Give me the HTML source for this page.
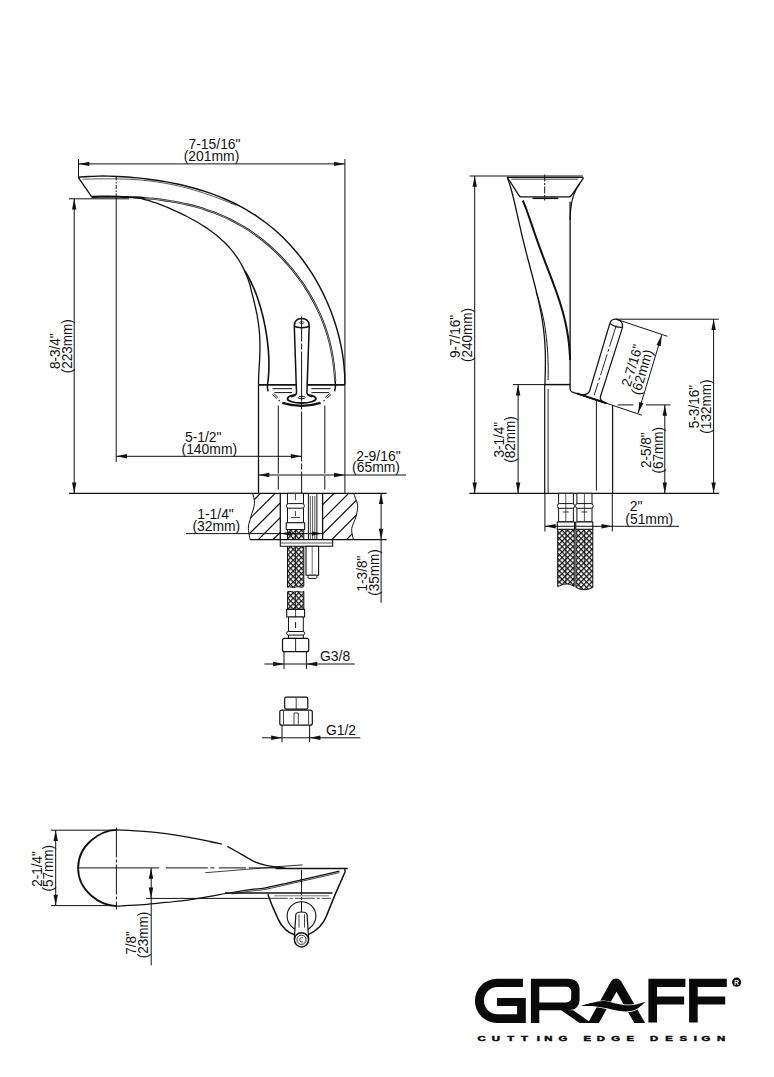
<!DOCTYPE html>
<html><head><meta charset="utf-8"><title>GRAFF faucet dimensions</title>
<style>
html,body{margin:0;padding:0;background:#fff;}
body{width:774px;height:1077px;overflow:hidden;font-family:"Liberation Sans",sans-serif;}
svg{display:block;}
svg text{font-family:"Liberation Sans",sans-serif;fill:#111;stroke:none;}
</style></head><body>
<svg width="774" height="1077" viewBox="0 0 774 1077" fill="none" stroke="#111" stroke-linecap="butt" stroke-linejoin="round">
<defs>
<pattern id="mesh" width="3.84" height="3.84" patternUnits="userSpaceOnUse" patternTransform="rotate(45)">
<rect width="3.84" height="3.84" fill="#fff" stroke="none"/>
<path d="M0 0H3.84M0 0V3.84" stroke="#111" stroke-width="2.5"/>
</pattern>
<pattern id="hatch" width="7" height="7" patternUnits="userSpaceOnUse" patternTransform="rotate(-45)">
<path d="M0 3.5H7" stroke="#111" stroke-width="1"/>
</pattern>
</defs>
<g id="side">
<line x1="78.5" y1="159" x2="78.5" y2="178.4" stroke-width="1.0"/>
<line x1="344.9" y1="159" x2="344.9" y2="493.3" stroke-width="1.0"/>
<line x1="78.5" y1="163.9" x2="344.9" y2="163.9" stroke-width="1.0"/>
<polygon points="78.50,163.90 89.30,161.70 89.30,166.10" fill="#111" stroke="none"/>
<polygon points="344.90,163.90 334.10,166.10 334.10,161.70" fill="#111" stroke="none"/>
<text transform="translate(214.5,149) scale(1.0,1)" font-size="13.9" text-anchor="middle">7-15/16&quot;</text>
<text transform="translate(211.5,161.4) scale(1.0,1)" font-size="13.9" text-anchor="middle">(201mm)</text>
<path d="M78.50 177.60L91.70 196.90" stroke-width="1.3" fill="none"/>
<path d="M78.50 177.20C80.16 177.08 85.18 176.64 88.48 176.47C91.78 176.29 95.05 176.19 98.32 176.13C101.58 176.08 104.83 176.09 108.08 176.14C111.32 176.19 114.56 176.30 117.80 176.45C121.04 176.59 124.28 176.79 127.52 177.02C130.76 177.26 133.99 177.54 137.24 177.86C140.48 178.18 143.72 178.54 146.96 178.95C150.20 179.36 153.45 179.80 156.69 180.30C159.93 180.79 163.17 181.33 166.40 181.91C169.64 182.50 172.87 183.13 176.09 183.81C179.31 184.50 182.52 185.23 185.72 186.01C188.91 186.80 192.10 187.64 195.27 188.54C198.43 189.44 201.58 190.39 204.71 191.41C207.83 192.42 210.94 193.50 214.01 194.64C217.09 195.78 220.14 196.98 223.16 198.25C226.17 199.52 229.16 200.86 232.11 202.26C235.05 203.67 237.97 205.14 240.84 206.68C243.71 208.23 246.54 209.84 249.33 211.52C252.11 213.21 254.86 214.96 257.55 216.78C260.24 218.61 262.89 220.50 265.48 222.46C268.08 224.43 270.62 226.46 273.11 228.56C275.60 230.66 278.04 232.83 280.41 235.06C282.79 237.29 285.12 239.59 287.38 241.95C289.64 244.30 291.85 246.73 293.99 249.21C296.14 251.68 298.22 254.22 300.24 256.81C302.26 259.40 304.22 262.04 306.12 264.73C308.01 267.42 309.85 270.16 311.61 272.95C313.38 275.73 315.08 278.55 316.72 281.42C318.35 284.28 319.92 287.18 321.43 290.11C322.93 293.04 324.36 296.01 325.73 299.00C327.10 301.99 328.40 305.01 329.62 308.06C330.85 311.10 332.01 314.16 333.10 317.24C334.19 320.33 335.20 323.43 336.15 326.55C337.09 329.66 337.97 332.80 338.76 335.95C339.56 339.09 340.28 342.26 340.93 345.43C341.58 348.61 342.15 351.80 342.64 355.01C343.14 358.22 343.55 361.45 343.89 364.69C344.22 367.94 344.47 371.21 344.64 374.51C344.81 377.81 344.86 382.84 344.90 384.50" stroke-width="1.45" fill="none"/>
<path d="M82.60 179.20C83.27 179.19 85.28 179.14 86.63 179.12C87.97 179.09 89.31 179.06 90.66 179.03C92.00 179.00 93.34 178.98 94.69 178.95C96.03 178.93 97.38 178.91 98.72 178.89C100.07 178.87 101.41 178.85 102.76 178.84C104.10 178.83 105.45 178.82 106.79 178.81C108.14 178.81 109.48 178.81 110.83 178.81C112.17 178.82 113.51 178.83 114.86 178.85C116.20 178.86 117.55 178.88 118.89 178.91C120.23 178.94 121.58 178.98 122.92 179.02C124.26 179.06 125.61 179.11 126.95 179.17C128.29 179.23 129.63 179.29 130.97 179.37C132.31 179.44 133.65 179.52 134.99 179.61C136.33 179.70 137.67 179.80 139.00 179.91C140.34 180.01 141.68 180.13 143.01 180.26C144.35 180.38 145.68 180.52 147.02 180.66C148.35 180.80 149.68 180.96 151.01 181.12C152.34 181.29 153.67 181.46 155.00 181.64C156.33 181.83 157.66 182.02 158.98 182.22C160.31 182.43 161.63 182.64 162.96 182.86C164.28 183.09 165.60 183.32 166.92 183.57C168.24 183.81 169.56 184.06 170.87 184.33C172.19 184.59 173.51 184.87 174.82 185.15C176.13 185.44 177.44 185.73 178.75 186.04C180.06 186.34 181.37 186.66 182.67 186.98C183.98 187.30 185.28 187.64 186.58 187.98C187.88 188.33 189.18 188.68 190.48 189.04C191.77 189.40 193.07 189.78 194.36 190.16C195.65 190.54 196.94 190.93 198.23 191.32C199.52 191.72 200.80 192.13 202.08 192.54C203.36 192.96 204.64 193.38 205.92 193.81C207.20 194.24 208.47 194.68 209.74 195.13C211.01 195.57 212.28 196.02 213.55 196.48C214.81 196.94 216.08 197.41 217.34 197.88C218.60 198.35 219.85 198.83 221.11 199.31C222.36 199.79 223.61 200.28 224.86 200.77C226.11 201.26 227.35 201.76 228.59 202.26C229.83 202.76 231.07 203.26 232.31 203.77C233.54 204.28 235.38 205.04 236.00 205.30" stroke-width="0.7" fill="none"/>
<path d="M91.70 196.90C93.20 196.86 97.73 196.69 100.70 196.64C103.67 196.59 106.59 196.57 109.52 196.58C112.45 196.58 115.35 196.62 118.25 196.68C121.16 196.75 124.06 196.83 126.96 196.95C129.86 197.07 132.76 197.21 135.67 197.39C138.58 197.57 141.49 197.77 144.41 198.01C147.33 198.25 150.25 198.52 153.17 198.83C156.09 199.14 159.02 199.49 161.94 199.88C164.86 200.27 167.79 200.70 170.70 201.18C173.62 201.66 176.53 202.18 179.43 202.76C182.33 203.34 185.22 203.96 188.10 204.64C190.97 205.32 193.83 206.06 196.67 206.85C199.51 207.65 202.34 208.50 205.14 209.41C207.93 210.32 210.71 211.29 213.46 212.32C216.20 213.36 218.93 214.45 221.62 215.61C224.30 216.77 226.97 217.99 229.59 219.27C232.22 220.55 234.81 221.90 237.37 223.31C239.92 224.72 242.45 226.19 244.93 227.72C247.41 229.25 249.86 230.85 252.27 232.50C254.68 234.15 257.04 235.87 259.37 237.63C261.70 239.40 263.99 241.23 266.23 243.11C268.47 244.99 270.68 246.93 272.84 248.92C275.00 250.90 277.11 252.94 279.18 255.03C281.25 257.11 283.28 259.25 285.26 261.43C287.24 263.61 289.18 265.84 291.06 268.11C292.95 270.37 294.79 272.68 296.57 275.03C298.36 277.38 300.10 279.77 301.78 282.19C303.46 284.61 305.09 287.07 306.66 289.57C308.24 292.06 309.76 294.58 311.21 297.14C312.67 299.70 314.07 302.29 315.41 304.90C316.75 307.52 318.02 310.16 319.23 312.84C320.44 315.51 321.58 318.21 322.66 320.93C323.73 323.65 324.74 326.40 325.67 329.17C326.61 331.94 327.47 334.74 328.27 337.55C329.06 340.37 329.79 343.21 330.44 346.06C331.09 348.92 331.67 351.79 332.19 354.68C332.70 357.57 333.15 360.48 333.53 363.40C333.92 366.31 334.24 369.24 334.52 372.18C334.80 375.11 335.09 379.53 335.20 381.00" stroke-width="2.1" fill="none"/>
<path d="M144.41 198.01C145.87 198.15 150.25 198.52 153.17 198.83C156.09 199.14 159.02 199.49 161.94 199.88C164.86 200.27 167.79 200.70 170.70 201.18C173.62 201.66 176.53 202.18 179.43 202.76C182.33 203.34 185.22 203.96 188.10 204.64C190.97 205.32 193.83 206.06 196.67 206.85C199.51 207.65 202.34 208.50 205.14 209.41C207.93 210.32 210.71 211.29 213.46 212.32C216.20 213.36 218.93 214.45 221.62 215.61C224.30 216.77 226.97 217.99 229.59 219.27C232.22 220.55 234.81 221.90 237.37 223.31C239.92 224.72 242.45 226.19 244.93 227.72C247.41 229.25 249.86 230.85 252.27 232.50C254.68 234.15 257.04 235.87 259.37 237.63C261.70 239.40 263.99 241.23 266.23 243.11C268.47 244.99 270.68 246.93 272.84 248.92C275.00 250.90 277.11 252.94 279.18 255.03C281.25 257.11 283.28 259.25 285.26 261.43C287.24 263.61 289.18 265.84 291.06 268.11C292.95 270.37 294.79 272.68 296.57 275.03C298.36 277.38 300.10 279.77 301.78 282.19C303.46 284.61 305.09 287.07 306.66 289.57C308.24 292.06 309.76 294.58 311.21 297.14C312.67 299.70 314.07 302.29 315.41 304.90C316.75 307.52 318.02 310.16 319.23 312.84C320.44 315.51 321.58 318.21 322.66 320.93C323.73 323.65 324.74 326.40 325.67 329.17C326.61 331.94 327.47 334.74 328.27 337.55C329.06 340.37 329.79 343.21 330.44 346.06C331.09 348.92 331.67 351.79 332.19 354.68C332.70 357.57 333.15 360.48 333.53 363.40C333.92 366.31 334.24 369.24 334.52 372.18C334.80 375.11 335.09 379.53 335.20 381.00" stroke-width="0.55" fill="none" stroke="#fff"/>
<path d="M134.70 197.60C135.40 197.70 137.49 197.95 138.88 198.19C140.26 198.43 141.63 198.72 143.00 199.03C144.37 199.35 145.73 199.71 147.08 200.08C148.43 200.46 149.78 200.87 151.12 201.30C152.46 201.72 153.79 202.17 155.11 202.64C156.44 203.10 157.76 203.59 159.08 204.08C160.39 204.58 161.70 205.09 163.00 205.61C164.31 206.14 165.61 206.67 166.91 207.21C168.20 207.76 169.49 208.31 170.78 208.87C172.06 209.43 173.35 210.00 174.62 210.58C175.90 211.16 177.17 211.75 178.44 212.35C179.71 212.94 180.98 213.55 182.24 214.16C183.50 214.78 184.75 215.40 186.00 216.03C187.25 216.67 188.50 217.31 189.73 217.96C190.97 218.62 192.21 219.28 193.43 219.96C194.66 220.64 195.88 221.33 197.09 222.03C198.30 222.74 199.51 223.45 200.70 224.18C201.90 224.92 203.09 225.66 204.27 226.42C205.44 227.18 206.61 227.96 207.77 228.76C208.93 229.55 210.07 230.36 211.20 231.19C212.34 232.02 213.46 232.87 214.56 233.73C215.67 234.60 216.76 235.48 217.84 236.39C218.91 237.29 219.97 238.21 221.02 239.15C222.06 240.10 223.08 241.06 224.09 242.04C225.09 243.02 226.08 244.02 227.05 245.05C228.01 246.07 228.96 247.11 229.88 248.17C230.80 249.23 231.71 250.31 232.58 251.41C233.46 252.50 234.31 253.62 235.14 254.76C235.97 255.89 236.77 257.05 237.55 258.21C238.33 259.38 239.08 260.57 239.80 261.77C240.52 262.98 241.22 264.19 241.89 265.43C242.56 266.66 243.20 267.91 243.82 269.16C244.43 270.42 245.02 271.70 245.58 272.98C246.14 274.26 246.67 275.56 247.17 276.86C247.68 278.17 248.16 279.48 248.61 280.81C249.07 282.13 249.54 283.53 249.90 284.80C250.26 286.07 250.50 287.39 250.75 288.43C251.00 289.47 251.19 290.17 251.41 291.04C251.63 291.91 251.85 292.78 252.07 293.65C252.29 294.52 252.52 295.40 252.74 296.27C252.96 297.14 253.18 298.01 253.40 298.88C253.62 299.76 253.84 300.63 254.05 301.51C254.26 302.38 254.47 303.25 254.68 304.13C254.89 305.00 255.09 305.88 255.29 306.76C255.49 307.63 255.69 308.51 255.88 309.39C256.07 310.27 256.25 311.15 256.43 312.03C256.61 312.91 256.79 313.79 256.96 314.67C257.12 315.55 257.29 316.43 257.44 317.32C257.60 318.20 257.74 319.08 257.89 319.97C258.03 320.85 258.16 321.74 258.29 322.63C258.42 323.51 258.54 324.40 258.65 325.29C258.76 326.18 258.87 327.07 258.97 327.96C259.07 328.85 259.16 329.74 259.24 330.63C259.32 331.52 259.40 332.41 259.47 333.31C259.54 334.20 259.60 335.10 259.65 335.99C259.70 336.89 259.75 337.78 259.79 338.68C259.83 339.57 259.86 340.47 259.88 341.37C259.91 342.27 259.93 343.16 259.94 344.06C259.95 344.96 259.96 345.86 259.96 346.76C259.95 347.66 259.95 348.56 259.94 349.46C259.92 350.36 259.91 351.26 259.88 352.16C259.86 353.06 259.83 353.97 259.80 354.87C259.77 355.77 259.73 356.67 259.69 357.57C259.66 358.47 259.61 359.38 259.57 360.28C259.52 361.18 259.47 362.08 259.42 362.98C259.38 363.88 259.32 364.79 259.27 365.69C259.22 366.59 259.17 367.49 259.12 368.39C259.06 369.29 259.01 370.19 258.96 371.09C258.91 371.99 258.86 372.88 258.82 373.78C258.77 374.68 258.73 375.58 258.69 376.47C258.66 377.37 258.62 378.26 258.59 379.16C258.56 380.05 258.54 380.94 258.52 381.83C258.51 382.72 258.50 384.06 258.50 384.50" stroke-width="1.3" fill="none"/>
<path d="M244.80 271.00C245.06 271.41 245.84 272.65 246.34 273.48C246.84 274.32 247.33 275.16 247.81 276.01C248.29 276.86 248.75 277.71 249.21 278.57C249.66 279.43 250.10 280.30 250.54 281.17C250.97 282.04 251.39 282.91 251.80 283.79C252.22 284.68 252.62 285.56 253.01 286.45C253.41 287.34 253.79 288.24 254.16 289.14C254.54 290.04 254.90 290.94 255.26 291.85C255.62 292.76 255.97 293.67 256.31 294.58C256.65 295.50 256.98 296.42 257.30 297.34C257.62 298.26 257.94 299.19 258.25 300.11C258.56 301.04 258.86 301.97 259.15 302.90C259.45 303.84 259.73 304.77 260.01 305.71C260.29 306.65 260.56 307.59 260.83 308.53C261.09 309.47 261.35 310.42 261.60 311.37C261.86 312.31 262.10 313.26 262.34 314.21C262.58 315.16 262.81 316.11 263.04 317.06C263.26 318.02 263.48 318.97 263.70 319.93C263.91 320.88 264.12 321.84 264.32 322.80C264.52 323.76 264.71 324.71 264.90 325.67C265.09 326.63 265.27 327.60 265.45 328.56C265.63 329.52 265.80 330.48 265.96 331.44C266.13 332.41 266.28 333.37 266.43 334.34C266.59 335.30 266.73 336.26 266.87 337.23C267.01 338.20 267.14 339.16 267.27 340.13C267.39 341.09 267.51 342.06 267.63 343.03C267.74 344.00 267.85 344.96 267.94 345.93C268.04 346.90 268.14 347.87 268.22 348.84C268.31 349.81 268.39 350.77 268.46 351.74C268.53 352.71 268.59 353.68 268.65 354.65C268.70 355.62 268.75 356.59 268.79 357.57C268.83 358.54 268.86 359.51 268.89 360.48C268.91 361.45 268.92 362.43 268.93 363.40C268.94 364.37 268.94 365.35 268.92 366.32C268.91 367.29 268.89 368.27 268.86 369.24C268.83 370.22 268.79 371.20 268.74 372.17C268.69 373.15 268.63 374.13 268.56 375.11C268.49 376.09 268.41 377.07 268.31 378.05C268.22 379.03 268.05 380.51 268.00 381.00" stroke-width="1.6" fill="none"/>
<line x1="69" y1="198.8" x2="129" y2="198.8" stroke-width="1.0"/>
<line x1="116.2" y1="176.5" x2="116.2" y2="198" stroke-width="1.0" stroke-dasharray="4 1.5 1.5 1.5"/>
<line x1="116.2" y1="198" x2="116.2" y2="462" stroke-width="1.0"/>
<line x1="74.2" y1="198.8" x2="74.2" y2="493.3" stroke-width="1.0"/>
<polygon points="74.20,198.80 76.40,209.60 72.00,209.60" fill="#111" stroke="none"/>
<polygon points="74.20,493.30 72.00,482.50 76.40,482.50" fill="#111" stroke="none"/>
<text transform="translate(59.6,351.2) rotate(-90) scale(0.98,1)" font-size="13.8" text-anchor="middle">8-3/4&quot;</text>
<text transform="translate(71.7,346.3) rotate(-90) scale(0.98,1)" font-size="13.8" text-anchor="middle">(223mm)</text>
<line x1="69" y1="493.3" x2="386.6" y2="493.3" stroke-width="1.3"/>
<line x1="258.5" y1="384.7" x2="258.5" y2="493.3" stroke-width="1.3"/>
<line x1="258.5" y1="384.8" x2="344.9" y2="384.8" stroke-width="1.7"/>
<ellipse cx="301.7" cy="398.7" rx="14.2" ry="4.3" stroke-width="1.8"/>
<path d="M294.3 326.4L296.5 392.5C296.6 395 294.5 396 291.5 396.6L292 400H311.5L312 396.6C309 396 306.8 395 306.9 392.5L309.2 326.4Z" fill="#fff" stroke="none"/>
<path d="M294.3 326.4L296.5 392.5C296.6 395 294.5 396.2 291 396.8M309.2 326.4L306.9 392.5C306.8 395 309 396.2 312.4 396.8" stroke-width="1.5" fill="none"/>
<line x1="301.6" y1="316.5" x2="301.6" y2="493.3" stroke-width="1.0" stroke-dasharray="50 2 6 2" stroke-dashoffset="25"/>
<path d="M294.3 326.4C294.3 321.4 297 318.5 301.7 318.5C306.4 318.5 309.2 321.4 309.2 326.4" stroke-width="1.5" fill="none"/>
<path d="M294.3 326.2C297 328.2 306.5 328.2 309.2 326.2" stroke-width="1.5" fill="none"/>
<ellipse cx="301.7" cy="322.6" rx="2.2" ry="1" stroke-width="0.7"/>
<ellipse cx="301.7" cy="397.5" rx="3.6" ry="1.2" stroke-width="1.0"/>
<path d="M335.20 381.00C335.23 381.97 335.50 385.08 335.40 386.80C335.30 388.52 334.73 390.55 334.60 391.30" stroke-width="1.5" fill="none"/>
<path d="M268.00 381.00C267.90 381.97 267.38 385.08 267.40 386.80C267.42 388.52 267.98 390.55 268.10 391.30" stroke-width="1.5" fill="none"/>
<path d="M331 394.5L326.5 398.5M329.8 393.5L325.3 397.5M272.4 394.5L276.9 398.5M273.6 393.5L278.1 397.5" stroke-width="0.9" fill="none"/>
<path d="M324.5 400.3L323.5 401M278.7 400.3L279.7 401" stroke-width="1.2" fill="none"/>
<path d="M282.3 402.8C290 405.2 296 405.8 301.7 405.8C307.5 405.8 313 405.2 320.6 402.8" stroke-width="2.3" fill="none"/>
<line x1="272.6" y1="388.7" x2="292" y2="388.7" stroke-width="1.0"/>
<line x1="311.4" y1="388.7" x2="330.7" y2="388.7" stroke-width="1.0"/>
<line x1="274.5" y1="392.6" x2="292" y2="392.6" stroke-width="1.0"/>
<line x1="311.4" y1="392.6" x2="328.8" y2="392.6" stroke-width="1.0"/>
<line x1="278.3" y1="405.5" x2="278.3" y2="489.5" stroke-width="1.0" stroke-dasharray="68 2.5"/>
<line x1="324.8" y1="405.5" x2="324.8" y2="489.5" stroke-width="1.0" stroke-dasharray="68 2.5"/>
<line x1="116.2" y1="456.3" x2="301.6" y2="456.3" stroke-width="1.0"/>
<polygon points="116.20,456.30 127.00,454.10 127.00,458.50" fill="#111" stroke="none"/>
<polygon points="301.60,456.30 290.80,458.50 290.80,454.10" fill="#111" stroke="none"/>
<text transform="translate(203.2,442) scale(1.0,1)" font-size="13.9" text-anchor="middle">5-1/2&quot;</text>
<text transform="translate(209.3,454) scale(1.0,1)" font-size="13.9" text-anchor="middle">(140mm)</text>
<line x1="258.5" y1="475" x2="344.9" y2="475" stroke-width="1.0"/>
<polygon points="258.50,475.00 269.30,472.80 269.30,477.20" fill="#111" stroke="none"/>
<polygon points="344.90,475.00 334.10,477.20 334.10,472.80" fill="#111" stroke="none"/>
<line x1="344.9" y1="475" x2="406" y2="475" stroke-width="1.0"/>
<text transform="translate(378.4,460.6) scale(1.0,1)" font-size="13.9" text-anchor="middle">2-9/16&quot;</text>
<text transform="translate(376,472.3) scale(1.0,1)" font-size="13.9" text-anchor="middle">(65mm)</text>
</g>
<g id="counter">
<clipPath id="cl"><path d="M252.60 493.30C252.92 495.00 254.78 499.57 254.50 503.50C254.22 507.43 251.92 512.98 250.90 516.90C249.88 520.82 248.55 523.22 248.40 527.00C248.25 530.78 249.73 537.50 250.00 539.60L280.3 539.6L280.3 493.3Z"/></clipPath><clipPath id="cr"><path d="M353.40 493.30C354.10 495.28 357.18 501.27 357.60 505.20C358.02 509.13 356.88 512.98 355.90 516.90C354.92 520.82 352.12 524.92 351.70 528.70C351.28 532.48 353.12 537.78 353.40 539.60L322.6 539.6L322.6 493.3Z"/></clipPath>
<path d="M164.7 545L220.7 489M179.4 545L235.4 489M194.1 545L250.1 489M208.8 545L264.8 489M223.5 545L279.5 489M238.2 545L294.2 489M252.9 545L308.9 489M267.6 545L323.6 489M282.3 545L338.3 489M297.0 545L353.0 489M311.7 545L367.7 489M326.4 545L382.4 489M341.1 545L397.1 489M355.8 545L411.8 489M370.5 545L426.5 489M385.2 545L441.2 489M399.9 545L455.9 489" stroke-width="1.2" clip-path="url(#cl)"/>
<path d="M164.7 545L220.7 489M179.4 545L235.4 489M194.1 545L250.1 489M208.8 545L264.8 489M223.5 545L279.5 489M238.2 545L294.2 489M252.9 545L308.9 489M267.6 545L323.6 489M282.3 545L338.3 489M297.0 545L353.0 489M311.7 545L367.7 489M326.4 545L382.4 489M341.1 545L397.1 489M355.8 545L411.8 489M370.5 545L426.5 489M385.2 545L441.2 489M399.9 545L455.9 489" stroke-width="1.2" clip-path="url(#cr)"/>
<path d="M252.60 493.30C252.92 495.00 254.78 499.57 254.50 503.50C254.22 507.43 251.92 512.98 250.90 516.90C249.88 520.82 248.55 523.22 248.40 527.00C248.25 530.78 249.73 537.50 250.00 539.60" stroke-width="1.0" fill="none"/>
<path d="M353.40 493.30C354.10 495.28 357.18 501.27 357.60 505.20C358.02 509.13 356.88 512.98 355.90 516.90C354.92 520.82 352.12 524.92 351.70 528.70C351.28 532.48 353.12 537.78 353.40 539.60" stroke-width="1.0" fill="none"/>
<line x1="250" y1="539.6" x2="280.3" y2="539.6" stroke-width="1.3"/>
<line x1="322.6" y1="539.6" x2="386.6" y2="539.6" stroke-width="1.3"/>
<line x1="280.3" y1="493.3" x2="280.3" y2="539.6" stroke-width="1.3"/>
<line x1="322.6" y1="493.3" x2="322.6" y2="539.6" stroke-width="1.3"/>
<path d="M308.4 493.3V539.6M316.9 493.3V539.6" stroke-width="1.0" fill="none"/>
<path d="M310.3 496V539.6M312.6 496V539.6M314.8 496V539.6" stroke-width="0.7" fill="none"/>
<rect x="287.50" y="493.30" width="16.00" height="29.50" rx="0" stroke-width="1.0" fill="#fff"/>
<rect x="286.50" y="503.60" width="17.80" height="4.60" rx="2" stroke-width="1.0" fill="#fff"/>
<line x1="295.4" y1="494" x2="295.4" y2="500" stroke-width="0.8"/>
<line x1="295.4" y1="511" x2="295.4" y2="516" stroke-width="0.8"/>
<line x1="291" y1="517.5" x2="300" y2="517.5" stroke-width="0.8"/>
<rect x="286.20" y="522.80" width="18.50" height="6.70" rx="0" stroke-width="1.1" fill="#fff"/>
<path d="M287.5 529.5H303.8V586.2C301.5 588.6 298.5 585.6 295.7 587.2C293 588.6 290.5 585.6 287.5 587.4Z" fill="url(#mesh)" stroke-width="1.0"/>
<path d="M287.6 609.4H303.8V591.2C301 593.4 298.5 590.5 295.8 591.7C293 593 290.5 590.3 287.6 591.7Z" fill="url(#mesh)" stroke-width="1.0"/>
<line x1="295.5" y1="529.5" x2="295.5" y2="586" stroke-width="0.8"/>
<line x1="295.5" y1="592" x2="295.5" y2="609.4" stroke-width="0.8"/>
<line x1="186" y1="533.6" x2="322.6" y2="533.6" stroke-width="1.0"/>
<polygon points="280.30,533.60 291.10,531.40 291.10,535.80" fill="#111" stroke="none"/>
<polygon points="322.60,533.60 311.80,535.80 311.80,531.40" fill="#111" stroke="none"/>
<text transform="translate(215.5,518.9) scale(1.0,1)" font-size="13.9" text-anchor="middle">1-1/4&quot;</text>
<text transform="translate(216.3,530.6) scale(1.0,1)" font-size="13.9" text-anchor="middle">(32mm)</text>
<rect x="280.30" y="539.60" width="52.40" height="6.70" rx="0" stroke-width="1.1" fill="#fff"/>
<line x1="280.3" y1="543" x2="332.7" y2="543" stroke-width="0.7"/>
<rect x="306.00" y="546.30" width="12.60" height="28.90" rx="0" stroke-width="1.1" fill="#fff"/>
<line x1="312.2" y1="547" x2="312.2" y2="574" stroke-width="0.6"/>
<rect x="308.00" y="575.20" width="8.90" height="3.20" rx="1" stroke-width="1.0" fill="#fff"/>
<rect x="286.70" y="609.40" width="17.90" height="7.60" rx="0" stroke-width="1.1" fill="#fff"/>
<rect x="288.50" y="617.00" width="14.80" height="21.40" rx="0" stroke-width="1.0" fill="#fff"/>
<rect x="286.70" y="631.50" width="17.90" height="3.60" rx="1.6" stroke-width="1.0" fill="#fff"/>
<line x1="295.6" y1="610" x2="295.6" y2="617" stroke-width="0.8"/>
<line x1="295.6" y1="622" x2="295.6" y2="628" stroke-width="1.0"/>
<rect x="282.50" y="638.40" width="26.20" height="13.30" rx="2" stroke-width="1.2" fill="#fff"/>
<line x1="295.6" y1="638.4" x2="295.6" y2="651.7" stroke-width="0.9"/>
<line x1="284" y1="651.7" x2="284" y2="669" stroke-width="1.0"/>
<line x1="306.4" y1="651.7" x2="306.4" y2="669" stroke-width="1.0"/>
<line x1="264.4" y1="664" x2="354.8" y2="664" stroke-width="1.0"/>
<polygon points="284.00,664.00 273.20,666.20 273.20,661.80" fill="#111" stroke="none"/>
<polygon points="306.40,664.00 317.20,661.80 317.20,666.20" fill="#111" stroke="none"/>
<text transform="translate(320,661) scale(1.0,1)" font-size="13.9" text-anchor="start">G3/8</text>
<rect x="284.70" y="697.10" width="23.10" height="12.00" rx="1.5" stroke-width="1.2" fill="#fff"/>
<line x1="296.2" y1="698" x2="296.2" y2="709" stroke-width="0.8"/>
<rect x="279.80" y="710.10" width="32.50" height="15.10" rx="2" stroke-width="1.2" fill="#fff"/>
<path d="M283.5 711V724.5M308.6 711V724.5" stroke-width="0.8" fill="none"/>
<path d="M294 713V724.5M298.3 713V724.5M294 713H298.3" stroke-width="0.8" fill="none"/>
<line x1="282" y1="725.2" x2="282" y2="742.3" stroke-width="1.0"/>
<line x1="309.6" y1="725.2" x2="309.6" y2="742.3" stroke-width="1.0"/>
<line x1="262" y1="737.8" x2="360.3" y2="737.8" stroke-width="1.0"/>
<polygon points="282.00,737.80 271.20,740.00 271.20,735.60" fill="#111" stroke="none"/>
<polygon points="309.60,737.80 320.40,735.60 320.40,740.00" fill="#111" stroke="none"/>
<text transform="translate(325.9,735.1) scale(1.0,1)" font-size="13.9" text-anchor="start">G1/2</text>
<line x1="381.1" y1="493.3" x2="381.1" y2="602.8" stroke-width="1.0"/>
<polygon points="381.10,493.30 383.30,504.10 378.90,504.10" fill="#111" stroke="none"/>
<polygon points="381.10,539.60 378.90,528.80 383.30,528.80" fill="#111" stroke="none"/>
<text transform="translate(367.1,573.6) rotate(-90) scale(0.98,1)" font-size="13.8" text-anchor="middle">1-3/8&quot;</text>
<text transform="translate(379.1,572.5) rotate(-90) scale(0.98,1)" font-size="13.8" text-anchor="middle">(35mm)</text>
</g>
<g id="front">
<line x1="469.6" y1="176" x2="583" y2="176" stroke-width="1.0"/>
<path d="M507.3 177.3H582.3Q583.6 177.5 582.9 178.8L571.3 195.6Q570.4 196.9 568.8 196.9H521.4Q519.9 196.9 519.1 195.6Z" stroke-width="1.3" fill="none"/>
<line x1="511.2" y1="179.2" x2="578.3" y2="179.2" stroke-width="0.8"/>
<line x1="544.7" y1="174.5" x2="544.7" y2="200.5" stroke-width="1.0" stroke-dasharray="7 1.5 2 1.5"/>
<line x1="532.5" y1="198.3" x2="558.3" y2="198.3" stroke-width="1.6"/>
<path d="M507.60 178.20C507.89 179.06 508.80 181.63 509.35 183.35C509.90 185.07 510.42 186.80 510.92 188.54C511.42 190.27 511.88 192.01 512.34 193.76C512.80 195.50 513.23 197.24 513.66 198.99C514.09 200.74 514.50 202.49 514.91 204.25C515.31 206.00 515.71 207.75 516.11 209.51C516.50 211.26 516.89 213.02 517.29 214.77C517.68 216.53 518.07 218.29 518.46 220.04C518.86 221.80 519.25 223.55 519.65 225.31C520.05 227.06 520.45 228.82 520.85 230.57C521.26 232.32 521.67 234.08 522.09 235.83C522.51 237.58 522.93 239.33 523.35 241.08C523.78 242.83 524.21 244.58 524.65 246.33C525.09 248.08 525.53 249.83 525.98 251.57C526.43 253.32 526.88 255.06 527.33 256.81C527.79 258.56 528.25 260.30 528.71 262.04C529.17 263.79 529.63 265.53 530.09 267.28C530.56 269.02 531.02 270.77 531.48 272.51C531.95 274.25 532.41 276.00 532.86 277.74C533.32 279.49 533.78 281.24 534.23 282.98C534.68 284.73 535.12 286.48 535.56 288.23C536.00 289.98 536.43 291.73 536.85 293.48C537.27 295.23 537.68 296.98 538.08 298.74C538.48 300.50 538.87 302.25 539.25 304.01C539.62 305.77 539.98 307.53 540.33 309.30C540.68 311.06 541.01 312.83 541.33 314.60C541.65 316.37 541.95 318.14 542.23 319.92C542.51 321.69 542.78 323.47 543.02 325.25C543.27 327.03 543.50 328.81 543.70 330.60C543.91 332.38 544.10 334.17 544.27 335.96C544.44 337.75 544.59 339.55 544.72 341.34C544.85 343.14 544.96 344.94 545.05 346.74C545.14 348.54 545.21 350.34 545.27 352.14C545.32 353.95 545.36 355.75 545.38 357.56C545.41 359.37 545.41 361.17 545.40 362.98C545.40 364.79 545.37 366.59 545.34 368.40C545.31 370.21 545.27 372.01 545.22 373.81C545.18 375.62 545.12 377.42 545.07 379.22C545.01 381.01 544.93 383.70 544.90 384.60" stroke-width="1.3" fill="none"/>
<path d="M536.00 292.00C536.13 292.36 536.52 293.44 536.77 294.17C537.03 294.89 537.27 295.62 537.52 296.34C537.76 297.07 538.00 297.80 538.23 298.52C538.46 299.25 538.69 299.98 538.91 300.71C539.14 301.45 539.36 302.18 539.57 302.91C539.78 303.64 539.99 304.38 540.20 305.12C540.40 305.85 540.60 306.59 540.80 307.33C540.99 308.06 541.18 308.80 541.37 309.54C541.55 310.28 541.74 311.02 541.91 311.76C542.09 312.51 542.26 313.25 542.43 313.99C542.60 314.74 542.77 315.48 542.93 316.23C543.09 316.97 543.24 317.72 543.39 318.46C543.54 319.21 543.69 319.96 543.84 320.71C543.98 321.46 544.12 322.21 544.25 322.96C544.39 323.71 544.52 324.46 544.65 325.21C544.78 325.96 544.90 326.71 545.02 327.47C545.14 328.22 545.25 328.97 545.37 329.73C545.48 330.48 545.59 331.24 545.69 331.99C545.79 332.75 545.90 333.51 545.99 334.26C546.09 335.02 546.18 335.78 546.27 336.53C546.36 337.29 546.45 338.05 546.53 338.81C546.62 339.57 546.70 340.33 546.77 341.09C546.85 341.85 546.92 342.61 546.99 343.37C547.06 344.13 547.13 344.89 547.19 345.65C547.25 346.41 547.31 347.17 547.37 347.94C547.42 348.70 547.48 349.46 547.53 350.22C547.58 350.98 547.63 351.75 547.67 352.51C547.71 353.27 547.75 354.04 547.79 354.80C547.83 355.56 547.87 356.33 547.90 357.09C547.93 357.85 547.96 358.62 547.99 359.38C548.02 360.15 548.04 360.91 548.06 361.67C548.08 362.44 548.10 363.20 548.12 363.97C548.13 364.73 548.15 365.49 548.16 366.26C548.17 367.02 548.18 367.79 548.18 368.55C548.19 369.31 548.19 370.08 548.19 370.84C548.20 371.61 548.19 372.37 548.19 373.13C548.19 373.90 548.18 374.66 548.17 375.42C548.17 376.19 548.16 376.95 548.14 377.71C548.13 378.48 548.11 379.62 548.10 380.00" stroke-width="1.0" fill="none"/>
<path d="M522.80 200.50C523.07 201.16 523.90 203.14 524.43 204.47C524.96 205.80 525.47 207.14 525.97 208.47C526.48 209.81 526.97 211.15 527.46 212.50C527.94 213.84 528.42 215.19 528.89 216.53C529.37 217.88 529.84 219.23 530.30 220.58C530.77 221.93 531.23 223.28 531.70 224.63C532.16 225.98 532.62 227.33 533.09 228.68C533.55 230.04 534.01 231.39 534.48 232.74C534.95 234.09 535.41 235.43 535.88 236.78C536.36 238.13 536.83 239.48 537.31 240.82C537.78 242.17 538.26 243.51 538.75 244.86C539.23 246.20 539.72 247.54 540.21 248.89C540.70 250.23 541.19 251.57 541.69 252.91C542.18 254.25 542.68 255.58 543.19 256.92C543.69 258.26 544.19 259.60 544.70 260.93C545.21 262.27 545.72 263.60 546.23 264.94C546.74 266.27 547.25 267.61 547.76 268.94C548.28 270.28 548.79 271.61 549.30 272.95C549.81 274.28 550.32 275.62 550.83 276.95C551.34 278.29 551.85 279.62 552.35 280.96C552.85 282.30 553.36 283.64 553.85 284.98C554.35 286.32 554.84 287.66 555.33 289.01C555.81 290.35 556.29 291.70 556.76 293.04C557.24 294.39 557.70 295.74 558.16 297.09C558.62 298.45 559.07 299.80 559.51 301.16C559.95 302.52 560.38 303.88 560.79 305.24C561.21 306.61 561.62 307.98 562.02 309.35C562.41 310.72 562.80 312.09 563.17 313.47C563.54 314.85 563.90 316.23 564.24 317.61C564.58 319.00 564.91 320.38 565.23 321.78C565.54 323.17 565.85 324.56 566.13 325.96C566.42 327.36 566.69 328.76 566.94 330.17C567.20 331.57 567.44 332.98 567.66 334.39C567.89 335.81 568.09 337.22 568.29 338.64C568.48 340.06 568.66 341.48 568.82 342.90C568.98 344.32 569.13 345.74 569.26 347.17C569.40 348.59 569.51 350.02 569.62 351.44C569.72 352.87 569.82 354.30 569.90 355.72C569.98 357.15 570.07 359.29 570.10 360.00" stroke-width="2.0" fill="none"/>
<path d="M579.5 183.8C575 190 572 198 571 207C570.4 212 570.1 216 570.1 220" stroke-width="1.2" fill="none"/>
<path d="M570.1 201.8V389.2Q570.2 391.4 572.4 392.1L606 403.1" stroke-width="1.3" fill="none"/>
<line x1="606" y1="403.1" x2="641.8" y2="415.2" stroke-width="1.0"/>
<line x1="512.9" y1="384.6" x2="544.6" y2="384.6" stroke-width="1.0"/>
<line x1="544.6" y1="384.6" x2="570.1" y2="384.6" stroke-width="1.5"/>
<line x1="544.7" y1="384.6" x2="544.7" y2="493.3" stroke-width="1.2"/>
<line x1="548.1" y1="389" x2="548.1" y2="493.3" stroke-width="0.9"/>
<line x1="612.6" y1="405.2" x2="612.6" y2="493.3" stroke-width="1.2"/>
<line x1="596.4" y1="400.5" x2="596.4" y2="490.5" stroke-width="1.0"/>
<line x1="469.4" y1="493.3" x2="718.8" y2="493.3" stroke-width="1.3"/>
<path d="M609.8 323.5L589.6 391C588.8 393.6 585 394.8 580.7 395" stroke-width="1.2" fill="none"/>
<path d="M622.6 327.1L600.3 397C599.8 399.5 602.3 401.8 605.6 403" stroke-width="1.2" fill="none"/>
<line x1="577" y1="393.4" x2="606.5" y2="403.2" stroke-width="2.0"/>
<path d="M609.8 323.5C610.5 320.5 613.5 318.8 616.8 319.3C620.5 319.8 623.2 323 622.6 327.1" stroke-width="1.2" fill="none"/>
<path d="M609.8 323.5C613 326.2 619 327.8 622.6 327.1" stroke-width="1.3" fill="none"/>
<line x1="616.2" y1="325.6" x2="594.2" y2="395.3" stroke-width="0.9" stroke-dasharray="22 2.5 3 2.5"/>
<line x1="474.7" y1="176" x2="474.7" y2="493.3" stroke-width="1.0"/>
<polygon points="474.70,176.00 476.90,186.80 472.50,186.80" fill="#111" stroke="none"/>
<polygon points="474.70,493.30 472.50,482.50 476.90,482.50" fill="#111" stroke="none"/>
<text transform="translate(460,336.5) rotate(-90) scale(0.98,1)" font-size="13.8" text-anchor="middle">9-7/16&quot;</text>
<text transform="translate(472,335) rotate(-90) scale(0.98,1)" font-size="13.8" text-anchor="middle">(240mm)</text>
<line x1="518.1" y1="384.6" x2="518.1" y2="493.3" stroke-width="1.0"/>
<polygon points="518.10,384.60 520.30,395.40 515.90,395.40" fill="#111" stroke="none"/>
<polygon points="518.10,493.30 515.90,482.50 520.30,482.50" fill="#111" stroke="none"/>
<text transform="translate(503.5,439.8) rotate(-90) scale(0.98,1)" font-size="13.8" text-anchor="middle">3-1/4&quot;</text>
<text transform="translate(515.3,439.5) rotate(-90) scale(0.98,1)" font-size="13.8" text-anchor="middle">(82mm)</text>
<line x1="616.2" y1="319.2" x2="718.8" y2="319.2" stroke-width="1.0"/>
<line x1="713.6" y1="319.2" x2="713.6" y2="493.3" stroke-width="1.0"/>
<polygon points="713.60,319.20 715.80,330.00 711.40,330.00" fill="#111" stroke="none"/>
<polygon points="713.60,493.30 711.40,482.50 715.80,482.50" fill="#111" stroke="none"/>
<text transform="translate(699,406.6) rotate(-90) scale(0.98,1)" font-size="13.8" text-anchor="middle">5-3/16&quot;</text>
<text transform="translate(710.8,406.6) rotate(-90) scale(0.98,1)" font-size="13.8" text-anchor="middle">(132mm)</text>
<line x1="617.6" y1="404.9" x2="633.3" y2="404.9" stroke-width="1.0"/>
<line x1="646" y1="404.9" x2="670.5" y2="404.9" stroke-width="1.0"/>
<line x1="664.8" y1="404.9" x2="664.8" y2="493.3" stroke-width="1.0"/>
<polygon points="664.80,404.90 667.00,415.70 662.60,415.70" fill="#111" stroke="none"/>
<polygon points="664.80,493.30 662.60,482.50 667.00,482.50" fill="#111" stroke="none"/>
<text transform="translate(651,450.2) rotate(-90) scale(0.98,1)" font-size="13.8" text-anchor="middle">2-5/8&quot;</text>
<text transform="translate(662.5,450.2) rotate(-90) scale(0.98,1)" font-size="13.8" text-anchor="middle">(67mm)</text>
<line x1="616.2" y1="319.2" x2="667.4" y2="336.3" stroke-width="1.0"/>
<line x1="661.7" y1="335.3" x2="638.2" y2="413" stroke-width="1.0"/>
<polygon points="661.70,335.30 660.68,346.27 656.47,345.00" fill="#111" stroke="none"/>
<polygon points="638.20,413.00 639.22,402.03 643.43,403.30" fill="#111" stroke="none"/>
<text transform="translate(636.5,366.8) rotate(-73.2) scale(0.98,1)" font-size="13.8" text-anchor="middle">2-7/16&quot;</text>
<text transform="translate(646.4,373.5) rotate(-73.2) scale(0.98,1)" font-size="13.8" text-anchor="middle">(62mm)</text>
<line x1="544.9" y1="493.3" x2="544.9" y2="531.5" stroke-width="1.0"/>
<line x1="612.3" y1="493.3" x2="612.3" y2="531.5" stroke-width="1.0"/>
<rect x="558.60" y="493.30" width="14.80" height="28.50" rx="0" stroke-width="1.0" fill="#fff"/>
<rect x="557.40" y="503.60" width="17.10" height="4.70" rx="2" stroke-width="1.0" fill="#fff"/>
<line x1="565.8" y1="494" x2="565.8" y2="521" stroke-width="0.7"/>
<line x1="562.8" y1="512" x2="568.8" y2="512" stroke-width="0.8"/>
<rect x="576.90" y="493.30" width="15.10" height="28.50" rx="0" stroke-width="1.0" fill="#fff"/>
<rect x="575.60" y="503.60" width="17.50" height="4.70" rx="2" stroke-width="1.0" fill="#fff"/>
<line x1="584.4" y1="494" x2="584.4" y2="521" stroke-width="0.7"/>
<line x1="581.4" y1="512" x2="587.4" y2="512" stroke-width="0.8"/>
<path d="M557.7 529.2H574.2V586.4C571 584.5 568 583.8 565.5 584C562.5 584.3 560 585.6 557.7 586.6Z" fill="url(#mesh)" stroke-width="1.0"/>
<path d="M575.9 529.2H592.8V587.3C589 589.6 585 590 582 589.6C579.5 589.2 577.5 588.3 575.9 587.3Z" fill="url(#mesh)" stroke-width="1.0"/>
<line x1="565.8" y1="529" x2="565.8" y2="583" stroke-width="0.7"/>
<line x1="584.4" y1="529" x2="584.4" y2="566" stroke-width="0.7"/>
<rect x="557.30" y="522.00" width="17.20" height="7.20" rx="0" stroke-width="1.1" fill="#fff"/>
<rect x="575.70" y="522.00" width="17.10" height="7.20" rx="0" stroke-width="1.1" fill="#fff"/>
<line x1="544.9" y1="526.3" x2="679" y2="526.3" stroke-width="1.0"/>
<polygon points="544.90,526.30 555.70,524.10 555.70,528.50" fill="#111" stroke="none"/>
<polygon points="612.30,526.30 601.50,528.50 601.50,524.10" fill="#111" stroke="none"/>
<text transform="translate(636.2,511.2) scale(1.0,1)" font-size="13.9" text-anchor="middle">2&quot;</text>
<text transform="translate(649.2,524) scale(1.0,1)" font-size="13.9" text-anchor="middle">(51mm)</text>
</g>
<g id="bottom">
<line x1="51" y1="830.2" x2="116.4" y2="830.2" stroke-width="1.0"/>
<line x1="51" y1="905.6" x2="116.4" y2="905.6" stroke-width="1.0"/>
<line x1="55.7" y1="830.2" x2="55.7" y2="905.6" stroke-width="1.0"/>
<polygon points="55.70,830.20 57.90,841.00 53.50,841.00" fill="#111" stroke="none"/>
<polygon points="55.70,905.60 53.50,894.80 57.90,894.80" fill="#111" stroke="none"/>
<text transform="translate(41.5,868.9) rotate(-90) scale(0.98,1)" font-size="13.8" text-anchor="middle">2-1/4&quot;</text>
<text transform="translate(53.3,868.2) rotate(-90) scale(0.98,1)" font-size="13.8" text-anchor="middle">(57mm)</text>
<path d="M116.5 829.9C100 830.5 78.1 845 78.1 868C78.1 891 100 905.5 116.5 906.1" stroke-width="1.8" fill="none"/>
<path d="M116.50 829.90C121.07 830.15 135.67 830.78 143.90 831.40C152.13 832.02 158.57 832.65 165.90 833.60C173.23 834.55 180.58 835.78 187.90 837.10C195.22 838.42 204.13 840.32 209.80 841.50C215.47 842.68 219.88 843.75 221.90 844.20" stroke-width="1.3" fill="none"/>
<path d="M227.40 846.40C229.97 847.85 238.42 852.62 242.80 855.10C247.18 857.58 250.13 859.68 253.70 861.30C257.27 862.92 260.55 863.85 264.20 864.80C267.85 865.75 272.05 866.43 275.60 867.00C279.15 867.57 283.85 868.00 285.50 868.20" stroke-width="1.3" fill="none"/>
<path d="M116.50 906.10C121.07 905.85 135.67 905.22 143.90 904.60C152.13 903.98 158.57 903.13 165.90 902.40C173.23 901.67 180.58 901.20 187.90 900.20C195.22 899.20 202.48 897.68 209.80 896.40C217.12 895.12 224.48 893.70 231.80 892.50C239.12 891.30 248.30 889.92 253.70 889.20C259.10 888.48 257.72 889.43 264.20 888.20C270.68 886.97 283.12 883.93 292.60 881.80C302.08 879.67 313.28 877.18 321.10 875.40C328.92 873.62 336.43 871.82 339.50 871.10" stroke-width="1.2" fill="none"/>
<path d="M231.80 894.00C235.45 893.45 248.30 891.43 253.70 890.70C259.10 889.97 257.72 890.83 264.20 889.60C270.68 888.37 283.12 885.42 292.60 883.30C302.08 881.18 313.28 878.68 321.10 876.90C328.92 875.12 336.43 873.32 339.50 872.60" stroke-width="0.8" fill="none"/>
<line x1="116.4" y1="827.5" x2="116.4" y2="909.5" stroke-width="1.0" stroke-dasharray="30 2 3 2"/>
<line x1="78" y1="867.9" x2="159.3" y2="867.9" stroke-width="1.0"/>
<line x1="165.9" y1="867.9" x2="276" y2="867.9" stroke-width="1.0" stroke-dasharray="42 2.5 4 4.5 27 3"/>
<line x1="275.6" y1="868.5" x2="347.8" y2="868.5" stroke-width="1.5"/>
<line x1="205.4" y1="872.7" x2="275.6" y2="867" stroke-width="0.8"/>
<line x1="275.6" y1="866.8" x2="302.6" y2="864.9" stroke-width="0.9"/>
<line x1="146.1" y1="898.4" x2="267.8" y2="898.4" stroke-width="1.0"/>
<line x1="225" y1="892.9" x2="332.4" y2="892.9" stroke-width="1.5"/>
<line x1="274.2" y1="895.8" x2="328.9" y2="895.8" stroke-width="0.9" stroke="#666"/>
<line x1="267.8" y1="898.3" x2="331" y2="898.3" stroke-width="0.8" stroke-dasharray="20 2 3 2"/>
<line x1="151.2" y1="867.9" x2="151.2" y2="965.3" stroke-width="1.0"/>
<polygon points="151.00,867.90 153.20,878.70 148.80,878.70" fill="#111" stroke="none"/>
<polygon points="151.00,898.40 148.80,887.60 153.20,887.60" fill="#111" stroke="none"/>
<text transform="translate(136.4,943) rotate(-90) scale(0.98,1)" font-size="13.8" text-anchor="middle">7/8&quot;</text>
<text transform="translate(148.4,935) rotate(-90) scale(0.98,1)" font-size="13.8" text-anchor="middle">(23mm)</text>
<path d="M344.5 869.2Q345.5 870.5 345 872L335.3 894.1L326.7 915.4C325 920 322.5 923.5 319.6 926.8C316 930.5 312 933 308.3 934.6" stroke-width="1.5" fill="none"/>
<path d="M267.8 894.3L272.7 906.9L278.4 919.6C280 923.5 282.5 926.5 285.5 929.6C288.5 932.3 291.5 933.8 294.5 934.8" stroke-width="1.5" fill="none"/>
<circle cx="301.5" cy="916.1" r="14.4" stroke-width="1.1"/>
<line x1="301.5" y1="869.9" x2="301.5" y2="912.5" stroke-width="1.0" stroke-dasharray="25 2 3 2"/>
<path d="M295.8 915C295.8 911 307.1 911 307.1 915L308.6 939H294.3Z" fill="#fff" stroke-width="1.2"/>
<line x1="299" y1="914.5" x2="299" y2="927.5" stroke-width="0.8"/>
<line x1="304.5" y1="914.5" x2="304.5" y2="927.5" stroke-width="0.8"/>
<circle cx="301.5" cy="939.8" r="7.1" stroke-width="1.5" fill="#fff"/>
<circle cx="301.5" cy="939.8" r="4.6" stroke-width="0.9"/>
<path d="M303 938A2.2 2.2 0 1 0 303 941.8" stroke-width="0.9" fill="none"/>
</g>
<g id="logo" stroke="none" fill="#0a0a0a">
<path d="M522.9 978.7H497A22.1 22.1 0 0 0 497 1022.9H525.8V997.9H497V1006H517.1V1014.2H497.5A13.6 13.65 0 0 1 497.5 986.9H522.9Z"/>
<path fill-rule="evenodd" d="M530.9 978.7H567.6Q579.6 978.7 579.6 990.2V998.8Q579.6 1010.3 567.6 1010.3H573.2L591.3 1022.9H579.6L561.1 1010.3H539.3V1022.9H530.9ZM539.3 986.8V1002.4H566Q571.2 1002.4 571.2 997.6V991.6Q571.2 986.8 566 986.8Z"/>
<path d="M588 1022.9L611.2 981Q613 978.6 616.1 978.6Q619.3 978.6 621 981L645.1 1022.9H634.2L616.5 991.8L598.9 1022.9Z"/>
<path d="M581.30 1005.80C583.12 1005.30 588.43 1003.58 592.20 1002.80C595.97 1002.02 599.98 1000.97 603.90 1001.10C607.82 1001.23 612.05 1002.90 615.70 1003.60C619.35 1004.30 622.43 1005.17 625.80 1005.30C629.17 1005.43 632.65 1005.00 635.90 1004.40C639.15 1003.80 643.73 1002.15 645.30 1001.70L645.30 1001.90C643.73 1003.17 639.15 1007.90 635.90 1009.50C632.65 1011.10 629.17 1011.37 625.80 1011.50C622.43 1011.63 619.35 1010.92 615.70 1010.30C612.05 1009.68 607.82 1008.50 603.90 1007.80C599.98 1007.10 595.97 1006.38 592.20 1006.10C588.43 1005.82 583.12 1006.10 581.30 1006.10Z" stroke="#fff" stroke-width="1.4" paint-order="stroke"/>
<path d="M648.4 978.8H685.4V987H657V996.5H684.1V1004.6H657V1022.6H648.4Z"/>
<path d="M689.1 978.8H726.8V987H697.7V996.5H725.2V1004.6H697.7V1022.6H689.1Z"/>
<circle cx="736.6" cy="982.2" r="4.6"/>
<text x="736.6" y="984.6" font-size="6.4" font-weight="bold" text-anchor="middle" style="fill:#fff">R</text>
<text transform="translate(481.6,1040.7) scale(1.55,1)" font-size="7.3" font-weight="bold" text-anchor="middle" style="fill:#0a0a0a;stroke:#0a0a0a;stroke-width:0.45px">C</text>
<text transform="translate(495.8,1040.7) scale(1.55,1)" font-size="7.3" font-weight="bold" text-anchor="middle" style="fill:#0a0a0a;stroke:#0a0a0a;stroke-width:0.45px">U</text>
<text transform="translate(510.6,1040.7) scale(1.55,1)" font-size="7.3" font-weight="bold" text-anchor="middle" style="fill:#0a0a0a;stroke:#0a0a0a;stroke-width:0.45px">T</text>
<text transform="translate(524.4,1040.7) scale(1.55,1)" font-size="7.3" font-weight="bold" text-anchor="middle" style="fill:#0a0a0a;stroke:#0a0a0a;stroke-width:0.45px">T</text>
<text transform="translate(538.3,1040.7) scale(1.55,1)" font-size="7.3" font-weight="bold" text-anchor="middle" style="fill:#0a0a0a;stroke:#0a0a0a;stroke-width:0.45px">I</text>
<text transform="translate(548.4,1040.7) scale(1.55,1)" font-size="7.3" font-weight="bold" text-anchor="middle" style="fill:#0a0a0a;stroke:#0a0a0a;stroke-width:0.45px">N</text>
<text transform="translate(563,1040.7) scale(1.55,1)" font-size="7.3" font-weight="bold" text-anchor="middle" style="fill:#0a0a0a;stroke:#0a0a0a;stroke-width:0.45px">G</text>
<text transform="translate(587.2,1040.7) scale(1.55,1)" font-size="7.3" font-weight="bold" text-anchor="middle" style="fill:#0a0a0a;stroke:#0a0a0a;stroke-width:0.45px">E</text>
<text transform="translate(600.8,1040.7) scale(1.55,1)" font-size="7.3" font-weight="bold" text-anchor="middle" style="fill:#0a0a0a;stroke:#0a0a0a;stroke-width:0.45px">D</text>
<text transform="translate(615.7,1040.7) scale(1.55,1)" font-size="7.3" font-weight="bold" text-anchor="middle" style="fill:#0a0a0a;stroke:#0a0a0a;stroke-width:0.45px">G</text>
<text transform="translate(630.2,1040.7) scale(1.55,1)" font-size="7.3" font-weight="bold" text-anchor="middle" style="fill:#0a0a0a;stroke:#0a0a0a;stroke-width:0.45px">E</text>
<text transform="translate(654.2,1040.7) scale(1.55,1)" font-size="7.3" font-weight="bold" text-anchor="middle" style="fill:#0a0a0a;stroke:#0a0a0a;stroke-width:0.45px">D</text>
<text transform="translate(668.9,1040.7) scale(1.55,1)" font-size="7.3" font-weight="bold" text-anchor="middle" style="fill:#0a0a0a;stroke:#0a0a0a;stroke-width:0.45px">E</text>
<text transform="translate(683.2,1040.7) scale(1.55,1)" font-size="7.3" font-weight="bold" text-anchor="middle" style="fill:#0a0a0a;stroke:#0a0a0a;stroke-width:0.45px">S</text>
<text transform="translate(695.4,1040.7) scale(1.55,1)" font-size="7.3" font-weight="bold" text-anchor="middle" style="fill:#0a0a0a;stroke:#0a0a0a;stroke-width:0.45px">I</text>
<text transform="translate(705.8,1040.7) scale(1.55,1)" font-size="7.3" font-weight="bold" text-anchor="middle" style="fill:#0a0a0a;stroke:#0a0a0a;stroke-width:0.45px">G</text>
<text transform="translate(721,1040.7) scale(1.55,1)" font-size="7.3" font-weight="bold" text-anchor="middle" style="fill:#0a0a0a;stroke:#0a0a0a;stroke-width:0.45px">N</text>
</g>
</svg>
</body></html>
